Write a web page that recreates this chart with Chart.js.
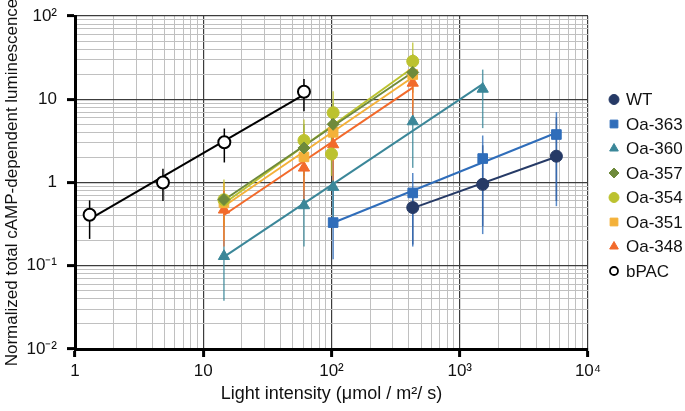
<!DOCTYPE html>
<html><head><meta charset="utf-8">
<script src="https://cdn.jsdelivr.net/npm/chart.js@4.4.0/dist/chart.umd.min.js"></script>
<style>html,body{margin:0;padding:0;background:#fff;}#wrap{width:685px;height:411px;}</style>
</head><body><div id="wrap"><canvas id="c" width="685" height="411"></canvas></div>
<script>
// ---------- data ----------
const xMajorTicks = [1, 10, 100, 1000, 10000];
const xTickLabels = ['1', '10', '10²', '10³', '10⁴'];
const yMajorTicks = [0.01, 0.1, 1, 10, 100];
const yTickLabels = ['10⁻²', '10⁻¹', '1', '10', '10²'];

const seriesNames = ['WT', 'Oa-363', 'Oa-360', 'Oa-357', 'Oa-354', 'Oa-351', 'Oa-348', 'bPAC'];

const wtX = [430, 1510, 5670];
const wtY = [0.5, 0.95, 2.07];
const wtLo = [0.18, 0.3, 0.6];
const wtHi = [0.85, 2.8, 6.0];

const oa363X = [103, 430, 1510, 5670];
const oa363Y = [0.33, 0.75, 1.94, 3.77];
const oa363Lo = [0.12, 0.17, 0.24, 0.52];
const oa363Hi = [0.9, 1.3, 3.67, 7.0];

const oa360X = [14.5, 61, 103, 430, 1510];
const oa360Y = [0.13, 0.53, 0.88, 5.4, 13.3];
const oa360Lo = [0.038, 0.17, 0.3, 1.5, 4.5];
const oa360Hi = [0.4, 1.5, 2.5, 10, 22.7];

const oa357X = [14.5, 61, 103, 430];
const oa357Y = [0.625, 2.6, 5.0, 21];
const oa357Lo = [0.3, 1.2, 2.5, 12];
const oa357Hi = [1.0, 5, 9, 35];

const oa354X = [14.5, 61, 100, 103, 430];
const oa354Y = [0.62, 3.2, 2.2, 6.9, 28.6];
const oa354Lo = [0.3, 1.5, 1.2, 3, 15];
const oa354Hi = [1.09, 5.7, 3.5, 12.5, 48];

const oa351X = [14.5, 61, 103, 430];
const oa351Y = [0.57, 2.03, 4.0, 19.8];
const oa351Lo = [0.2, 0.8, 1.8, 8];
const oa351Hi = [1.0, 4, 7, 30];

const oa348X = [14.5, 61, 103, 430];
const oa348Y = [0.47, 1.5, 2.86, 15.7];
const oa348Lo = [0.17, 0.5, 0.9, 5];
const oa348Hi = [0.8, 3, 6, 25];

const bpacX = [1.3, 4.85, 14.6, 61];
const bpacY = [0.41, 1.0, 3.05, 12.3];
const bpacLo = [0.21, 0.6, 1.74, 7.2];
const bpacHi = [0.61, 1.46, 4.45, 17.5];

// ---------- styles ----------
const seriesStyle = [
  {color: '#263a66', fill: '#263a66', shape: 'circle', r: 6},
  {color: '#2f6dba', fill: '#2f6dba', shape: 'rect', r: 6.8},
  {color: '#3b8799', fill: '#3b8799', shape: 'triangle', r: 6.5},
  {color: '#6e8a3b', fill: '#6e8a3b', shape: 'rectRot', r: 6},
  {color: '#bcc22f', fill: '#bcc22f', shape: 'circle', r: 6},
  {color: '#f4b139', fill: '#f4b139', shape: 'rect', r: 6.8},
  {color: '#f26a2b', fill: '#f26a2b', shape: 'triangle', r: 6.5},
  {color: '#000000', fill: '#ffffff', shape: 'circle', r: 6}
];
const seriesData = [
  [wtX, wtY, wtLo, wtHi],
  [oa363X, oa363Y, oa363Lo, oa363Hi],
  [oa360X, oa360Y, oa360Lo, oa360Hi],
  [oa357X, oa357Y, oa357Lo, oa357Hi],
  [oa354X, oa354Y, oa354Lo, oa354Hi],
  [oa351X, oa351Y, oa351Lo, oa351Hi],
  [oa348X, oa348Y, oa348Lo, oa348Hi],
  [bpacX, bpacY, bpacLo, bpacHi]
];

const FONT = "'Liberation Sans', Arial, sans-serif";
Chart.defaults.font.family = FONT;

function fitLine(xs, ys) {
  const lx = xs.map(Math.log10), ly = ys.map(Math.log10);
  const n = lx.length;
  const mx = lx.reduce((a, b) => a + b, 0) / n, my = ly.reduce((a, b) => a + b, 0) / n;
  let sxx = 0, sxy = 0;
  for (let i = 0; i < n; i++) { sxx += (lx[i] - mx) ** 2; sxy += (lx[i] - mx) * (ly[i] - my); }
  const b = sxy / sxx, a = my - b * mx;
  const x0 = Math.min(...xs), x1 = Math.max(...xs);
  return [{x: x0, y: Math.pow(10, a + b * Math.log10(x0))}, {x: x1, y: Math.pow(10, a + b * Math.log10(x1))}];
}

function hexA(hex, a) {
  const v = parseInt(hex.slice(1), 16);
  return `rgba(${(v >> 16) & 255},${(v >> 8) & 255},${v & 255},${a})`;
}

const datasets = [];
seriesNames.forEach((name, i) => {
  const [xs, ys, lo, hi] = seriesData[i];
  const st = seriesStyle[i];
  datasets.push({
    label: name,
    type: 'scatter',
    data: xs.map((x, k) => ({x, y: ys[k]})),
    errLo: lo, errHi: hi,
    errColor: i === 7 ? '#000' : hexA(st.color, 0.8),
    pointStyle: st.shape,
    pointRadius: st.r,
    pointHoverRadius: st.r,
    pointBackgroundColor: st.fill,
    pointBorderColor: st.color,
    pointBorderWidth: i === 7 ? 2 : 1,
    showLine: false,
    order: 1
  });
});
seriesNames.forEach((name, i) => {
  const [xs, ys] = seriesData[i];
  datasets.push({
    label: name + ' fit',
    type: 'line',
    data: fitLine(xs, ys),
    borderColor: seriesStyle[i].color,
    borderWidth: 2,
    pointRadius: 0,
    fill: false,
    order: 2
  });
});

function buildTicks(majors) {
  const out = [];
  for (let m = 0; m < majors.length - 1; m++) for (let d = 1; d <= 9; d++) out.push(majors[m] * d);
  out.push(majors[majors.length - 1]);
  return out;
}
function majorIndex(v, majors) {
  for (let i = 0; i < majors.length; i++) if (Math.abs(Math.log10(v) - Math.log10(majors[i])) < 1e-6) return i;
  return -1;
}

const errorBarPlugin = {
  id: 'errorBars',
  beforeDatasetsDraw(chart) {
    const ctx = chart.ctx, xs = chart.scales.x, ys = chart.scales.y;
    ctx.save();
    chart.data.datasets.forEach(ds => {
      if (!ds.errLo) return;
      ctx.strokeStyle = ds.errColor;
      ctx.lineWidth = 1.5;
      ds.data.forEach((p, k) => {
        const px = xs.getPixelForValue(p.x);
        ctx.beginPath();
        ctx.moveTo(px, ys.getPixelForValue(ds.errLo[k]));
        ctx.lineTo(px, ys.getPixelForValue(ds.errHi[k]));
        ctx.stroke();
      });
    });
    ctx.restore();
  }
};

const legendPlugin = {
  id: 'sideLegend',
  afterDraw(chart) {
    const ctx = chart.ctx;
    const top = 99.5, step = 24.5, mx = 614, tx = 626;
    ctx.save();
    seriesNames.forEach((name, i) => {
      const st = seriesStyle[i];
      const y = top + i * step;
      ctx.fillStyle = st.fill;
      ctx.strokeStyle = st.color;
      ctx.lineWidth = i === 7 ? 1.8 : 1;
      const r = i === 7 ? 4 : (st.shape === 'rect' ? 5.5 : 5);
      Chart.helpers.drawPoint(ctx, {pointStyle: st.shape, radius: r, rotation: 0, borderWidth: ctx.lineWidth}, mx, y);
      ctx.fillStyle = '#111';
      ctx.font = `17px ${FONT}`;
      ctx.textAlign = 'left';
      ctx.textBaseline = 'middle';
      ctx.fillText(name, tx, y + 1);
    });
    ctx.restore();
  }
};

function gridOpts(majors) {
  return {
    drawTicks: true,
    tickLength: 8,
    tickWidth: 3,
    tickColor: c => majorIndex(c.tick.value, majors) >= 0 ? '#000' : 'rgba(0,0,0,0)',
    color: c => majorIndex(c.tick.value, majors) >= 0 ? '#3c3c3c' : '#c0c0c0',
    lineWidth: c => majorIndex(c.tick.value, majors) >= 0 ? 1.2 : 1
  };
}

new Chart(document.getElementById('c'), {
  data: {datasets},
  options: {
    responsive: false,
    animation: false,
    layout: {padding: {top: 16, right: 97, left: 0, bottom: 0}},
    plugins: {legend: {display: false}, tooltip: {enabled: false}},
    scales: {
      x: {
        type: 'logarithmic', min: 1, max: 10000, position: 'bottom',
        border: {color: '#000', width: 3},
        grid: gridOpts(xMajorTicks),
        afterBuildTicks: s => { s.ticks = buildTicks(xMajorTicks).map(v => ({value: v})); },
        afterFit: s => { s.height = 62; s.paddingLeft = 0; },
        ticks: {
          autoSkip: false, maxRotation: 0, minRotation: 0, color: '#111', padding: 4,
          font: {size: 17},
          callback: v => { const k = majorIndex(v, xMajorTicks); return k >= 0 ? xTickLabels[k] : ''; }
        },
        title: {display: true, text: 'Light intensity (μmol / m²/ s)', color: '#111', font: {size: 18}, padding: {top: 6, bottom: 6}}
      },
      y: {
        type: 'logarithmic', min: 0.01, max: 100, position: 'left',
        border: {color: '#000', width: 3},
        grid: gridOpts(yMajorTicks),
        afterBuildTicks: s => { s.ticks = buildTicks(yMajorTicks).map(v => ({value: v})); },
        afterFit: s => { s.width = 75; s.paddingTop = 0; s.paddingBottom = 0; },
        ticks: {
          autoSkip: false, color: '#111', padding: 10,
          font: {size: 17},
          callback: v => { const k = majorIndex(v, yMajorTicks); return k >= 0 ? yTickLabels[k] : ''; }
        },
        title: {display: true, text: 'Normalized total cAMP-dependent luminescence', color: '#111', font: {size: 17}, padding: {top: 2, bottom: 0}}
      }
    }
  },
  plugins: [errorBarPlugin, legendPlugin]
});
</script>
</body></html>
